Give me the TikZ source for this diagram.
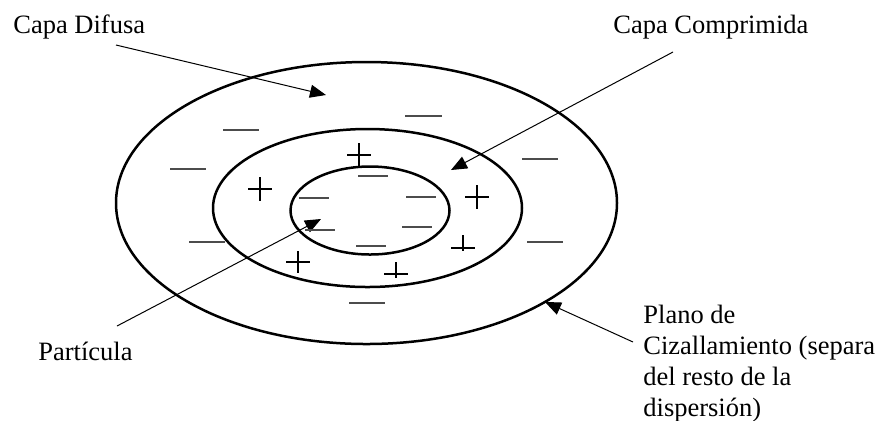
\documentclass[tikz,border=0pt]{standalone}
\usepackage{fontspec}
\setmainfont{Liberation Serif}
\usetikzlibrary{arrows.meta, positioning, shapes.geometric}
\tikzset{
    layer ring/.style={ellipse, draw=black, line width=1.25pt, inner sep=0pt, outer sep=0pt},
    label text/.style={font=\fontsize{13.25}{15.4}\selectfont, inner sep=0pt, align=left},
    arrow style/.style={-{Triangle[length=8pt, width=6.5pt]}, line width=0.5pt, black},
    minus sign/.style={line width=0.7pt, black!70},
    plus sign/.style={line width=0.85pt, black},
}

\begin{document}
\begin{tikzpicture}[x=0.5pt, y=-0.5pt]
        \useasboundingbox (0,0) rectangle (877,420);

        % Layers
        \node[layer ring, minimum width=250.5pt, minimum height=141pt] (outer) at (366.5,203) {};
        \node[layer ring, minimum width=154.5pt, minimum height=79pt] (middle) at (367.5,208) {};
        \node[layer ring, minimum width=79.5pt, minimum height=44pt] (inner) at (370,210.5) {};

        % Labels (multi-line label sits on its last baseline)
        \node[label text, anchor=base west] (difusa) at (13,33) {Capa Difusa};
        \node[label text, anchor=base west] (comprimida) at (613,33) {Capa Comprimida};
        \node[label text, anchor=base west] (particula) at (38,360) {Partícula};
        \node[label text, anchor=base west] (plano) at (643,416) {Plano de\\Cizallamiento (separa\\del resto de la\\dispersión)};

        % Arrow ends
        \coordinate (difusa start) at (116,45);
        \coordinate (difusa tip) at (326,95);
        \coordinate (comprimida start) at (673,52);
        \coordinate (comprimida tip) at (451,170);
        \coordinate (particula start) at (117,326);
        \coordinate (particula tip) at (321,219);
        \coordinate (plano start) at (633,342);

        % Arrows
        \draw[arrow style] (difusa start) -- (difusa tip);
        \draw[arrow style] (comprimida start) -- (comprimida tip);
        \draw[arrow style] (particula start) -- (particula tip);
        \draw[arrow style] (plano start) -- (outer.-29.5);

        % Negative charges
        \draw[minus sign] (405,116) -- ++(37,0);
        \draw[minus sign] (223,130) -- ++(36,0);
        \draw[minus sign] (170,169) -- ++(36,0);
        \draw[minus sign] (522,159) -- ++(36,0);
        \draw[minus sign] (189,242) -- ++(36,0);
        \draw[minus sign] (527,242) -- ++(36,0);
        \draw[minus sign] (349,303) -- ++(36,0);
        \draw[minus sign] (358,176) -- ++(30,0);
        \draw[minus sign] (299,198) -- ++(30,0);
        \draw[minus sign] (406,197) -- ++(30,0);
        \draw[minus sign] (305,230) -- ++(30,0);
        \draw[minus sign] (402,227) -- ++(30,0);
        \draw[minus sign] (356,246) -- ++(30,0);

        % Positive charges
        \draw[plus sign] (347,155) -- ++(24,0) (359,143) -- ++(0,24);
        \draw[plus sign] (248,189) -- ++(24,0) (260,177) -- ++(0,24);
        \draw[plus sign] (465,197) -- ++(24,0) (477,185) -- ++(0,24);
        \draw[plus sign] (286,262) -- ++(24,0) (298,251) -- ++(0,22);
        \draw[plus sign] (451,248) -- ++(24,0) (463,235) -- ++(0,16);
        \draw[plus sign] (384,274) -- ++(24,0) (396,262) -- ++(0,16);
    \end{tikzpicture}
\end{document}
